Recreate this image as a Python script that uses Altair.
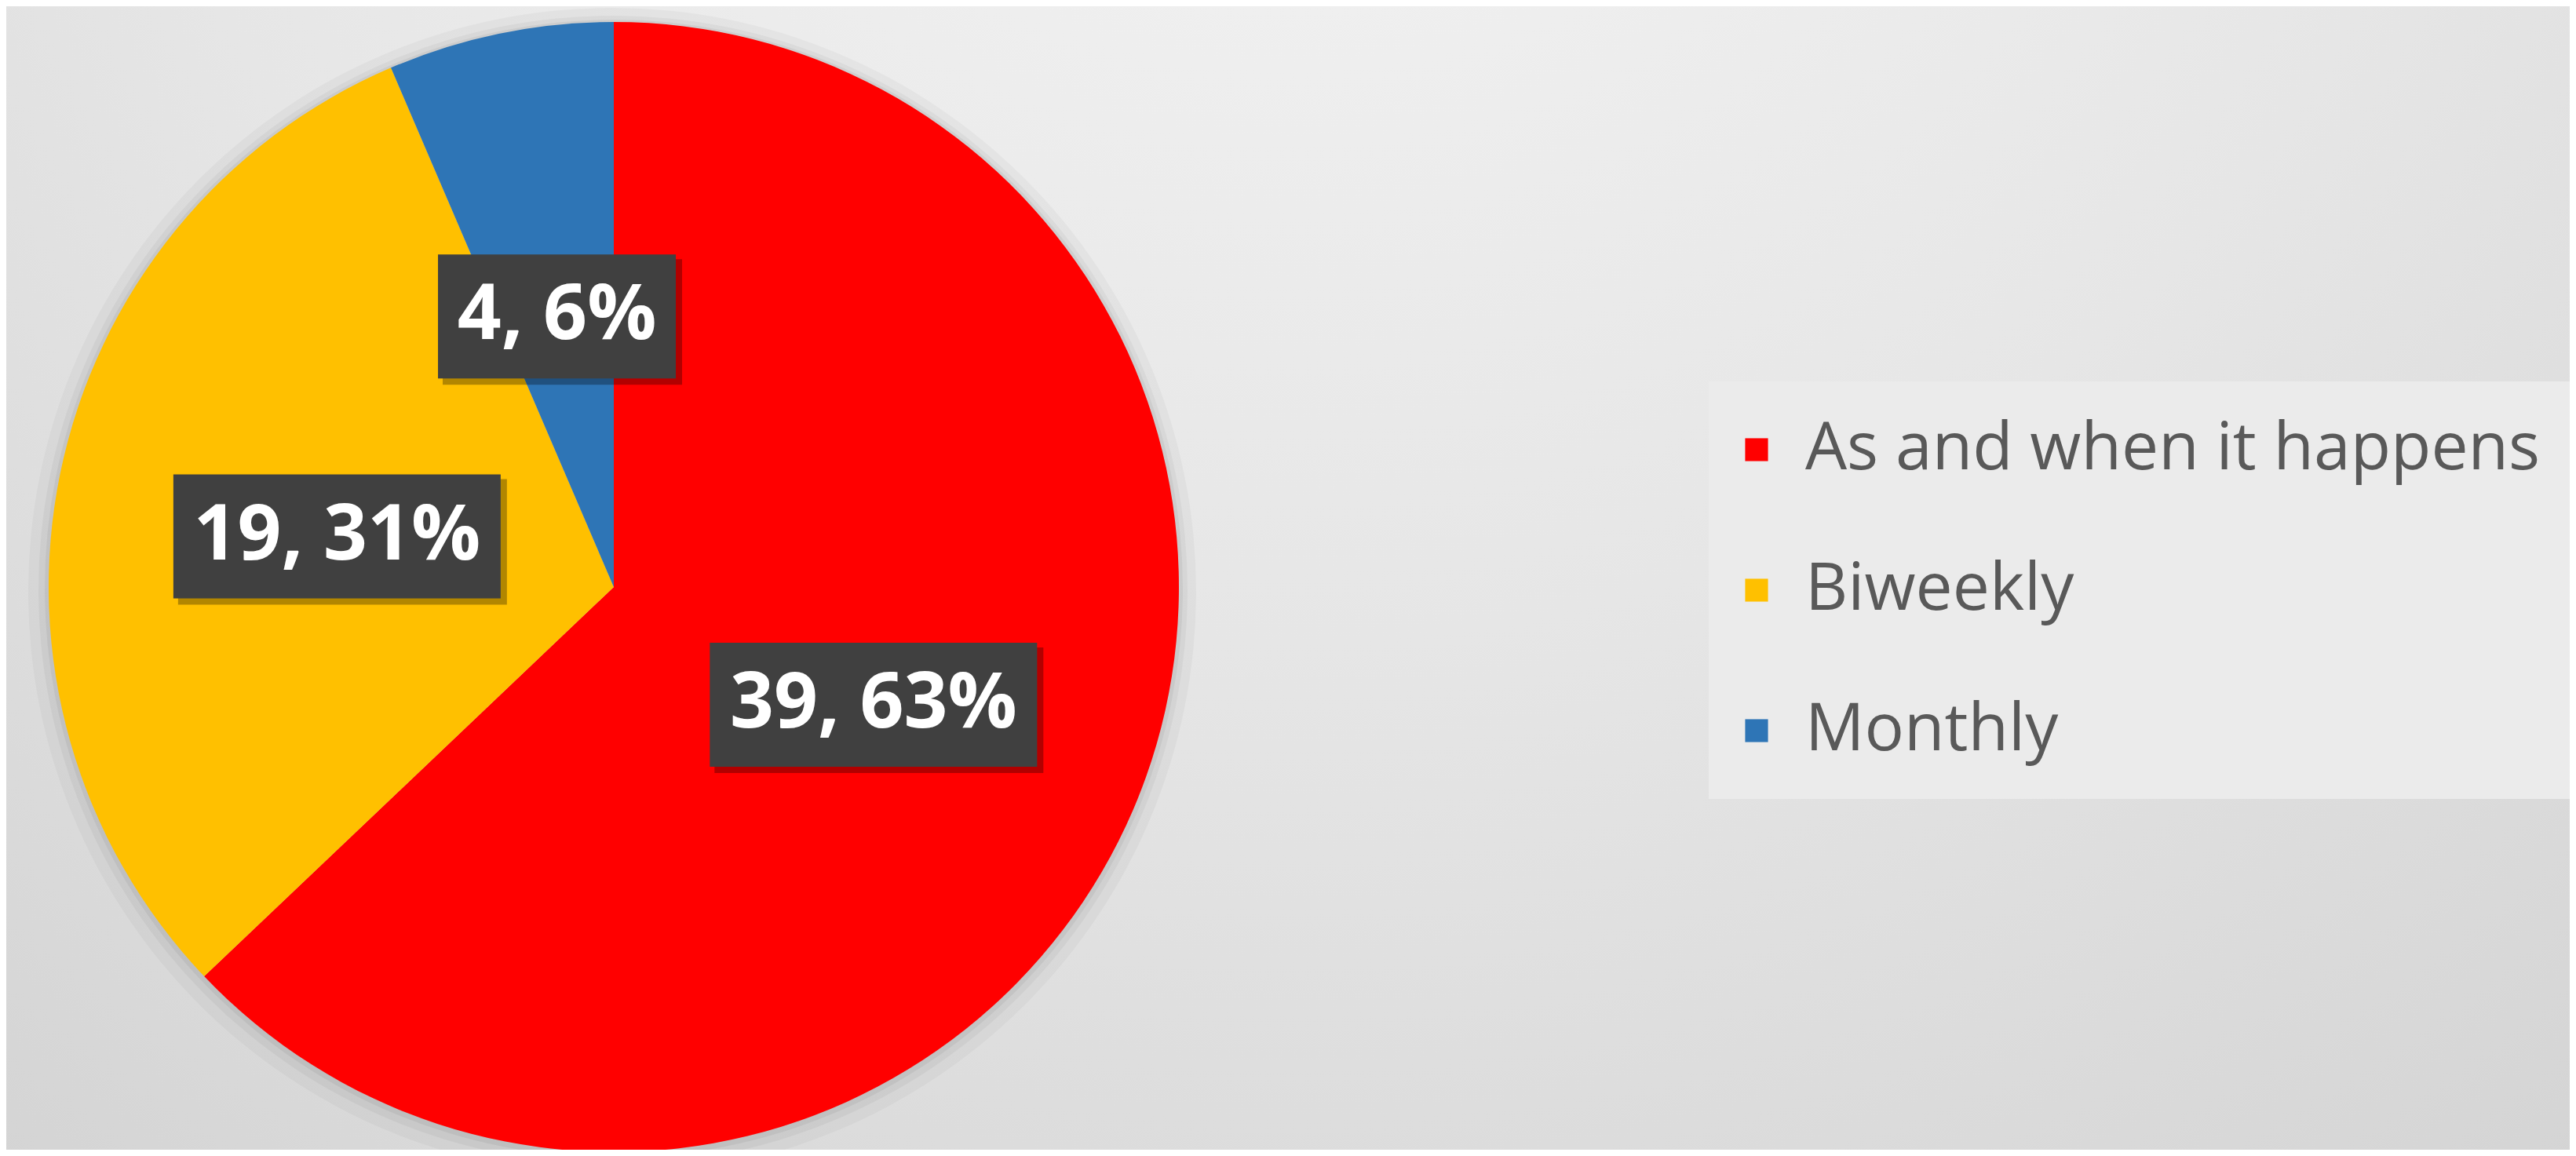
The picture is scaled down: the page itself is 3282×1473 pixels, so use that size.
import altair as alt
import pandas as pd

categories = ["As and when it happens", "Biweekly", "Monthly"]
counts = [39, 19, 4]
percent_labels = ["63%", "31%", "6%"]
colors = ["#FF0000", "#FFC000", "#2E75B6"]

W, H = 3266, 1457
CX, CY = 774, 740
R = 720
LR = 360

df = pd.DataFrame({
    "category": categories,
    "count": counts,
    "pct": percent_labels,
    "order": [0, 1, 2],
})
df["label"] = [f"{c}, {p}" for c, p in zip(counts, percent_labels)]

one = alt.Chart(pd.DataFrame({"a": [0]}))

bg = one.mark_rect(
    fill={
        "gradient": "radial",
        "x1": 0.5, "y1": 0.05, "r1": 0.0,
        "x2": 0.5, "y2": 0.05, "r2": 0.95,
        "stops": [
            {"offset": 0.0, "color": "#f7f7f7"},
            {"offset": 0.5, "color": "#e6e6e6"},
            {"offset": 1.0, "color": "#cfcfcf"},
        ],
    }
).encode(x=alt.value(0), x2=alt.value(W), y=alt.value(0), y2=alt.value(H))

halo1 = one.mark_arc(radius=R + 24, color="#000000", opacity=0.03).encode(
    x=alt.value(CX - 2), y=alt.value(CY + 6), theta=alt.value(0), theta2=alt.value(6.2832)
)
halo2 = one.mark_arc(radius=R + 12, color="#000000", opacity=0.04).encode(
    x=alt.value(CX - 1), y=alt.value(CY + 4), theta=alt.value(0), theta2=alt.value(6.2832)
)
halo3 = one.mark_arc(radius=R + 5, color="#000000", opacity=0.05).encode(
    x=alt.value(CX), y=alt.value(CY + 2), theta=alt.value(0), theta2=alt.value(6.2832)
)

base = alt.Chart(df)

pie = base.mark_arc(radius=R).encode(
    theta=alt.Theta("count:Q", stack=True),
    color=alt.Color(
        "category:N",
        scale=alt.Scale(domain=categories, range=colors),
        legend=alt.Legend(
            title=None,
            orient="none",
            legendX=2169,
            legendY=478,
            symbolType="square",
            symbolSize=850,
            symbolStrokeWidth=0,
            symbolOffset=-26,
            labelFontSize=84,
            labelFont="Open Sans",
            labelColor="#595959",
            labelOffset=20,
            labelLimit=3000,
            rowPadding=95,
            padding=45,
            fillColor="#ebebeb",
        ),
    ),
    order=alt.Order("order:Q"),
    x=alt.value(CX),
    y=alt.value(CY),
)

lab = base.transform_window(
    cum="sum(count)", sort=[alt.SortField("order")]
).transform_joinaggregate(
    total="sum(count)"
).transform_calculate(
    mid="2*PI*(datum.cum - datum.count/2)/datum.total",
).transform_calculate(
    px=f"{CX} + {LR}*sin(datum.mid)",
    py=f"{CY} + 8 - {LR}*cos(datum.mid)",
    w="18 + 57*length(datum.label)",
).transform_calculate(
    bx1="datum.px - datum.w/2",
    bx2="datum.px + datum.w/2",
    by1="datum.py - 79",
    by2="datum.py + 79",
    sx1="datum.px - datum.w/2 + 6",
    sx2="datum.px + datum.w/2 + 8",
    sy1="datum.py - 79 + 6",
    sy2="datum.py + 79 + 8",
)

box_shadow = lab.mark_rect(color="#000000", opacity=0.3).encode(
    x=alt.X("sx1:Q", scale=None, axis=None),
    x2="sx2:Q",
    y=alt.Y("sy1:Q", scale=None, axis=None),
    y2="sy2:Q",
)
box = lab.mark_rect(color="#404040").encode(
    x=alt.X("bx1:Q", scale=None, axis=None),
    x2="bx2:Q",
    y=alt.Y("by1:Q", scale=None, axis=None),
    y2="by2:Q",
)
text = lab.mark_text(
    font="Open Sans", fontWeight="bold", fontSize=98, color="#ffffff",
    align="center", baseline="middle",
).encode(
    x=alt.X("px:Q", scale=None, axis=None),
    y=alt.Y("py:Q", scale=None, axis=None),
    text="label:N",
)

chart = alt.layer(bg, halo1, halo2, halo3, pie, box_shadow, box, text).properties(
    width=W, height=H, padding=0, autosize="none"
).configure_view(strokeWidth=0)

chart.save("out.html", embed_options={"renderer": "svg", "actions": False})
